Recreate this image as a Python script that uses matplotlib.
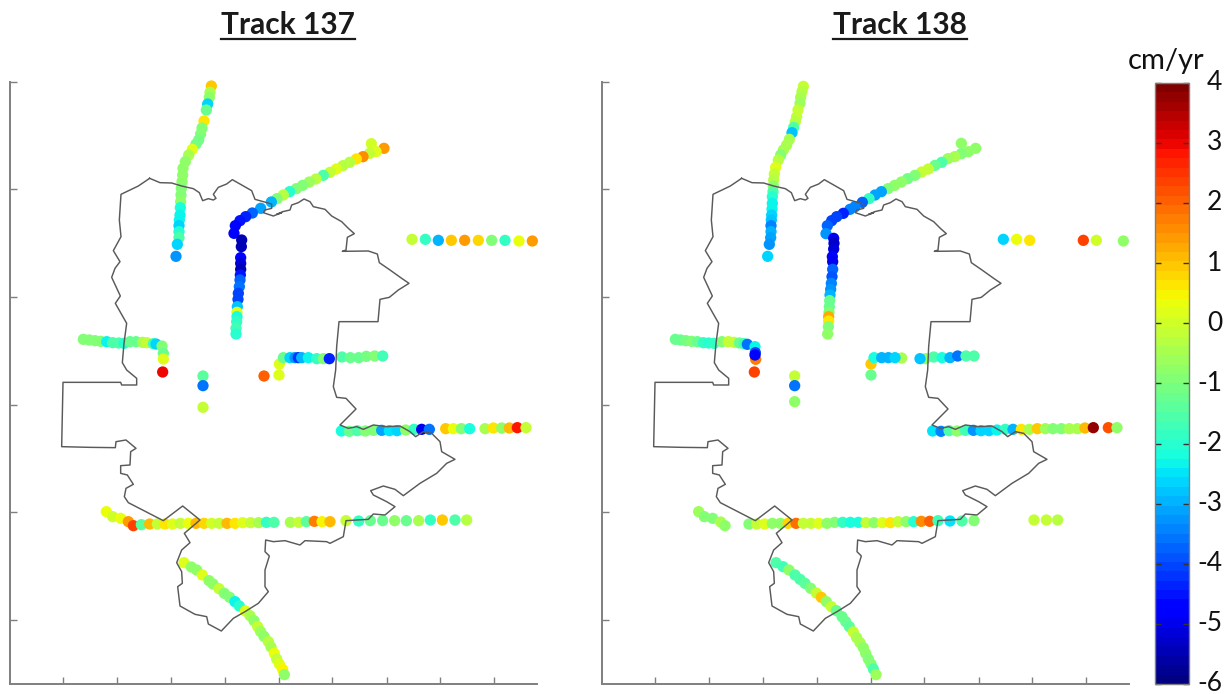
import matplotlib
matplotlib.use("Agg")
import matplotlib.pyplot as plt
from matplotlib.lines import Line2D
from matplotlib.cm import ScalarMappable
from matplotlib.colors import Normalize
from matplotlib.transforms import ScaledTranslation

plt.rcParams["font.family"] = ["Lato", "DejaVu Sans"]

W, H = 1231, 694

# map coordinates (arbitrary grid, y grows southwards)
x_ticks = [190, 352, 513, 676, 836, 996, 1160, 1320, 1483]
y_ticks = [246, 567, 890, 1214, 1537, 1860]
cbar_ticks = [4, 3, 2, 1, 0, -1, -2, -3, -4, -5, -6]
titles = ["Track 137", "Track 138"]

# city boundary
border_x = [449, 480, 515, 545, 580, 598, 608, 625, 640, 648, 640, 655, 680, 697, 720, 755, 765, 790, 815, 815, 795, 790, 820, 845,
            830, 848, 870, 875, 895, 912, 930, 940, 975, 995, 1025, 1045, 1063, 1042, 1038, 1027, 1105, 1132, 1138, 1170, 1205, 1227, 1195, 1168, 1140, 1134, 1017, 1010, 1007,
            1000, 1010, 1038, 1068, 1020, 1045, 1070, 1090, 1120, 1160, 1200, 1230, 1247, 1270, 1295, 1320, 1325, 1365, 1340, 1310, 1260, 1210, 1185, 1150, 1112, 1120, 1160, 1185, 1155, 1120, 1105, 1038, 1030, 990, 980, 915, 900, 855,
            820, 797, 795, 808, 795, 795, 805, 775, 735, 700, 664, 625, 620, 585, 540, 533, 547, 545, 530, 545, 570, 553, 600, 548, 490, 385, 373, 378, 400, 382, 362, 362, 390, 392, 408, 378, 348, 346, 268, 185, 189, 362, 365, 410, 410, 380,
            367, 372, 380, 346, 361, 335, 345, 360, 340, 363, 358, 363, 415, 449]
border_y = [535, 548, 549, 558, 566, 578, 602, 596, 600, 595, 583, 562, 552, 539, 552, 572, 598, 605, 612, 625, 630, 638, 648, 638,
            643, 635, 630, 615, 608, 597, 605, 620, 628, 648, 665, 685, 701, 712, 750, 754, 753, 762, 788, 810, 835, 850, 870, 892, 898, 965, 965, 1040, 1110,
            1160, 1192, 1195, 1227, 1275, 1285, 1280, 1288, 1275, 1280, 1278, 1295, 1310, 1295, 1300, 1325, 1355, 1378, 1390, 1420, 1450, 1487, 1468, 1458, 1472, 1485, 1505, 1520, 1545, 1542, 1558, 1562, 1610, 1630, 1625, 1622, 1635, 1622,
            1625, 1620, 1655, 1668, 1710, 1760, 1775, 1810, 1835, 1855, 1893, 1872, 1850, 1843, 1818, 1760, 1750, 1715, 1688, 1650, 1628, 1600, 1560, 1518, 1562, 1508, 1490, 1465, 1453, 1425, 1420, 1397, 1395, 1355, 1345, 1320, 1325, 1343, 1342, 1340, 1147, 1147, 1155, 1155, 1135, 1110,
            1088, 1030, 970, 910, 888, 832, 805, 785, 752, 710, 660, 583, 558, 535]

# Track 137
x137 = [634, 630, 628, 623, 619, 612, 606, 602, 596, 588, 577, 566, 556, 549, 548, 546, 544, 543, 542, 541, 540, 538, 537, 537, 537, 532, 528,
        1114, 1152, 1128, 1109, 1089, 1069, 1049, 1029, 1009, 990, 970, 948, 928, 908, 889, 869, 850, 831, 814,
        782, 757, 737, 720, 706, 702, 725, 724, 722, 722, 722, 721, 720, 718, 715, 714, 712, 711, 711, 710, 708, 708,
        1236, 1276, 1315, 1354, 1394, 1435, 1475, 1515, 1557, 1597,
        250, 268, 285, 302, 320, 338, 356, 372, 390, 408, 428, 440, 460, 468, 486, 490, 490, 488,
        609, 609, 609, 792, 838, 837,
        850, 870, 885, 895, 905, 925, 950, 970, 988, 1026, 1051, 1076, 1099, 1124, 1148,
        319, 338, 362, 385, 400, 424, 449, 472, 495, 518, 541, 565, 588, 612, 635, 658, 681, 705, 728, 752, 776, 799, 822, 871,
        896, 919, 943, 966, 990, 1038, 1076, 1111, 1148, 1184, 1219, 1256, 1291, 1327, 1365, 1400,
        552, 574, 590, 607, 627, 639, 657, 673, 689, 705, 718, 736, 750, 762, 773, 782, 792, 805, 813, 823, 830, 838, 848, 853,
        1024, 1048, 1072, 1096, 1120, 1145, 1168, 1191, 1217, 1242, 1265, 1288, 1337, 1360, 1384, 1409, 1455, 1480, 1505, 1528, 1552, 1578]
y137 = [258, 277, 292, 312, 330, 363, 384, 402, 420, 432, 448, 465, 485, 505, 525, 545, 565, 585, 605, 623, 645, 660, 677, 695, 713, 733, 769,
        431, 445, 455, 460, 470, 477, 487, 497, 507, 517, 526, 537, 546, 556, 566, 575, 585, 596, 606,
        625, 639, 650, 662, 677, 700, 720, 740, 773, 790, 808, 825, 840, 860, 880, 898, 920, 937, 950, 965, 985, 1002,
        718, 718, 721, 721, 721, 721, 721, 721, 723, 723,
        1018, 1020, 1022, 1024, 1025, 1028, 1029, 1030, 1025, 1025, 1027, 1028, 1031, 1032, 1038, 1060, 1077, 1116,
        1128, 1157, 1222, 1128, 1092, 1125,
        1073, 1073, 1073, 1073, 1073, 1073, 1076, 1076, 1076, 1071, 1073, 1073, 1069, 1068, 1068,
        1535, 1550, 1555, 1565, 1577, 1574, 1572, 1572, 1572, 1572, 1570, 1570, 1570, 1570, 1570, 1570, 1570, 1570, 1568, 1568, 1568, 1567, 1567, 1567,
        1567, 1565, 1564, 1565, 1565, 1562, 1563, 1562, 1562, 1562, 1562, 1562, 1560, 1560, 1560, 1560,
        1688, 1701, 1710, 1725, 1742, 1752, 1766, 1780, 1792, 1805, 1818, 1833, 1847, 1862, 1880, 1895, 1909, 1925, 1941, 1960, 1977, 1992, 2008, 2024,
        1293, 1294, 1292, 1293, 1291, 1291, 1292, 1292, 1290, 1288, 1288, 1288, 1286, 1286, 1286, 1286, 1286, 1284, 1284, 1284, 1283, 1283]
v137 = [0.9, -0.4, -0.7, -2.6, -1.3, 0.7, -1, -1, -1.1, -1.1, 0.1, -0.4, -0.8, -0.7, -0.7, -0.7, -0.9, -1, -0.8, -2.2, -2.4, -2.4, -2.6, -2, -1.5, -2.6, -3.2,
        0, 1.4, 0.1, -0.1, 1.5, 0.6, -0.3, -0.3, 0.2, -0.2, -1.5, -0.3, -0.6, -1, -0.9, -2, -0.3, -1, -3,
        -3.1, -3.8, -4.3, -4.5, -4.7, -4.6, -5.4, -5.4, -4.6, -5.2, -5.5, -4.5, -3.7, -3.6, -4, -4, -2.8, 0.1, -2.2, -1.8, -1.7, -2,
        -0.2, -1.9, -3, 0.9, 1.4, 0.8, -1, -1.9, 0.3, 1.4,
        -0.9, -1, -1, -1, -2.3, -1.5, -1.6, -2, -1.2, -1.2, -0.4, -0.2, -1.7, -2.6, -1, -1.2, 0.1, 3,
        -1.4, -3.6, -0.1, 2, 0.1, 0.1,
        -1.2, -2.6, -3.3, -4.2, -3, -2.4, -1.8, -1, -4.4, -1.5, -1.2, -1.3, -1.1, -1, -1.7,
        0.3, 0, 0.3, 1.4, 2.4, -1.4, 1.1, -0.1, 0.6, 0.2, -0.2, 0.4, 1.1, 0.8, 0, -0.2, 1.1, 0.6, 0.2, -0.1, -0.5, -1.9, -1.6, -0.4,
        -0.1, -1.4, 1.7, 0.5, 1.1, -0.2, -1.9, -1.2, -1.2, -0.8, -1.2, -0.5, -1.8, 1, -1.5, -0.3,
        0.2, -0.8, -0.7, 0.2, -0.7, -0.7, -0.1, -0.9, -0.9, -2.4, -2, 0.2, -0.5, -0.7, -0.2, -0.6, -0.8, -0.3, -0.5, 0.3, -0.2, 0.1, 0.5, -0.7,
        -2.1, -1.2, -1.6, -0.9, -1, -3.1, -2.5, -2.6, -0.8, -1.9, -5, -3.6, 1, 0.4, -0.9, -2.2, -0.5, 0.6, -0.7, 1.1, 2.9, -0.1]

# Track 138
x138 = [634, 630, 626, 624, 618, 614, 610, 605, 600, 592, 584, 574, 566, 559, 551, 547, 545, 544, 543, 541, 541, 540, 539, 538, 537, 537, 536, 532, 527,
        1108, 1151, 1129, 1108, 1088, 1068, 1049, 1029, 1009, 989, 969, 947, 928, 908, 888, 868, 849, 831, 811,
        789, 774, 754, 734, 719, 706, 702, 725, 726, 725, 721, 722, 722, 720, 718, 716, 714, 713, 712, 711, 710, 710, 709, 707,
        1234, 1274, 1313, 1474, 1513, 1594,
        250, 266, 282, 299, 316, 334, 350, 366, 390, 409, 426, 442, 456, 466, 491, 489, 490, 489, 487,
        608, 608, 608, 837, 837,
        929, 846, 869, 889, 909, 1001, 984, 1025, 1050, 1074, 1097, 1122, 1146,
        320, 337, 362, 386, 399, 471, 494, 518, 541, 565, 588, 612, 634, 657, 680, 705, 728, 752, 775, 799,
        822, 846, 871, 895, 918, 942, 965, 988, 1013, 1038, 1074, 1110, 1146, 1326, 1363, 1397,
        552, 573, 591, 609, 624, 639, 656, 673, 688, 703, 718, 733, 750, 761, 772, 784, 794, 804, 814, 821, 829, 837, 844, 852,
        1022, 1047, 1071, 1095, 1120, 1144, 1167, 1191, 1215, 1240, 1263, 1288, 1312, 1336, 1360, 1383, 1408, 1432, 1456, 1479, 1504, 1549, 1575]
y138 = [259, 275, 292, 310, 330, 350, 365, 382, 398, 418, 435, 450, 465, 480, 502, 522, 540, 558, 575, 590, 610, 627, 645, 660, 677, 695, 713, 733, 769,
        430, 445, 455, 461, 470, 476, 487, 496, 507, 516, 526, 536, 546, 556, 566, 575, 585, 596, 607,
        620, 628, 640, 650, 662, 677, 701, 715, 730, 747, 770, 785, 808, 830, 850, 868, 885, 902, 920, 937, 950, 963, 980, 1002,
        718, 718, 721, 721, 721, 723,
        1018, 1020, 1022, 1024, 1025, 1028, 1029, 1030, 1025, 1025, 1027, 1029, 1031, 1033, 1078, 1040, 1058, 1065, 1116,
        1128, 1157, 1205, 1092, 1125,
        1074, 1073, 1073, 1073, 1073, 1076, 1076, 1071, 1073, 1073, 1068, 1068, 1068,
        1535, 1550, 1555, 1566, 1577, 1572, 1572, 1572, 1570, 1570, 1570, 1570, 1570, 1570, 1570, 1570, 1567, 1567, 1567, 1567,
        1568, 1568, 1568, 1568, 1565, 1565, 1565, 1564, 1564, 1562, 1563, 1563, 1562, 1560, 1560, 1560,
        1688, 1700, 1710, 1725, 1738, 1750, 1765, 1779, 1792, 1805, 1820, 1832, 1850, 1865, 1880, 1896, 1913, 1928, 1943, 1960, 1977, 1992, 2007, 2024,
        1293, 1294, 1292, 1293, 1291, 1291, 1292, 1292, 1290, 1288, 1288, 1288, 1288, 1286, 1286, 1286, 1286, 1286, 1286, 1284, 1283, 1283, 1283]
v138 = [-0.1, -0.3, -0.5, -0.6, -0.2, -0.2, -0.3, -1.6, -2.8, -0.4, -0.5, -0.5, -0.9, -0.3, 0.1, -0.2, -0.3, -0.8, -1.5, -2, -2.3, -2.3, -2.7, -2.8, -3.5, -3, -3.1, -3.3, -2.7,
        -0.7, -0.8, -0.8, -0.9, -0.5, -0.6, -1.6, -1.2, -0.1, -0.1, -1, -1.1, -0.7, -0.8, -0.9, -3.1, -3.1, -1.8, -3.8,
        -3.5, -3.5, -4.4, -4.1, -4.1, -3.7, -3.2, -5, -5.3, -5.2, -4.9, -5, -3.8, -3.9, -3.4, -3.2, -2.9, -1.2, -1.2, -1, 1.3, 0.6, -1, -0.8,
        -2.6, 0.3, 0.7, 2.3, 0, -0.8,
        -1.2, -1.3, -1.1, -1, -1.3, -1.9, -2, -1.8, -0.9, -0.1, -0.1, -1.2, -1.7, -3.6, 1.7, -2.3, -4, -4.6, 2.4,
        -0.1, -3.6, -0.7, 1, -1.3,
        -0.5, -2.2, -3, -3, -2.7, -0.7, -2.8, -1.5, -2.2, -2.9, -3.6, -1.6, -1.5,
        -0.6, -0.9, -1, -0.5, -0.7, -1, -0.1, 0.1, -0.8, -0.8, 0.8, 1.9, -0.1, -0.1, 0.2, -0.8, -0.9, -1.9, -2.2, -2.1,
        -0.2, -0.7, 0.1, 0.6, -0.2, -0.7, -2, 1.6, 2.1, -1.7, -2.5, -1.6, -0.9, -0.1, -0.1, -0.3,
        -1.6, -1.7, -0.8, -1.6, -1.5, -1.4, -1, -0.2, 1, -0.7, -0.1, -1.2, -1.2, -1.3, -1.4, -0.2, -0.4, -0.5, -0.8, -0.7, -0.9, -1, -1.5, -0.6,
        -2.5, -3.5, -1.5, -0.7, -1.7, -3.3, -2.6, -2.6, -2.3, -1.9, -2.9, 0.6, -0.5, 0.9, -0.6, -1, -0.9, -0.4, -0.5, 1.1, 3.7, 2.2, -0.8]

GREY = "#7f7f7f"
cmap = plt.get_cmap("jet", 64)
norm = Normalize(vmin=-6, vmax=4)


def px_axes(fig, left, top, right, bottom):
    return fig.add_axes([left / W, 1 - bottom / H, (right - left) / W, (bottom - top) / H])


def draw_panel(ax, xs, ys, vs):
    ax.scatter(xs, ys, c=vs, cmap=cmap, norm=norm, s=66, linewidths=0, zorder=2, clip_on=False)
    ax.plot(border_x, border_y, color="#5a5a5a", lw=1.05, zorder=3)
    ax.set_xlim(30, 1611)
    ax.set_ylim(2052, 246)
    ax.set_xticks(x_ticks)
    ax.set_yticks(y_ticks)
    ax.tick_params(direction="in", length=5, width=1, color=GREY,
                   labelbottom=False, labelleft=False)
    for side in ["top", "right"]:
        ax.spines[side].set_visible(False)
    for side in ["left", "bottom"]:
        ax.spines[side].set_color(GREY)
        ax.spines[side].set_linewidth(1.4)


def underlined_title(fig, text, cx):
    t = fig.text(cx / W, 1 - 34 / H, text, ha="center", va="baseline",
                 fontsize=21.5, fontweight="bold", color="#1a1a1a")
    fig.canvas.draw()
    box = t.get_window_extent()
    fig.add_artist(Line2D([box.x0 / W, box.x1 / W], [1 - 39 / H, 1 - 39 / H],
                          color="#1a1a1a", lw=1.6))


fig = plt.figure(figsize=(W / 100, H / 100), dpi=100)

ax1 = px_axes(fig, 10, 82, 537, 684)
ax2 = px_axes(fig, 602, 82, 1129, 684)
draw_panel(ax1, x137, y137, v137)
draw_panel(ax2, x138, y138, v138)

underlined_title(fig, titles[0], 288)
underlined_title(fig, titles[1], 900)

cax = px_axes(fig, 1155, 83, 1189, 684)
cb = fig.colorbar(ScalarMappable(norm=norm, cmap=cmap), cax=cax, ticks=cbar_ticks)
cb.outline.set_edgecolor(GREY)
cb.outline.set_linewidth(1)
cb.ax.set_yticklabels([str(v) for v in cbar_ticks])
cb.ax.tick_params(axis="y", direction="in", left=True, right=True, length=4, width=1,
                  color="#333333", labelsize=19, pad=24, labelcolor="#111111")
# labels sit a little above their ticks
shift_up = ScaledTranslation(0, 2 / 72, fig.dpi_scale_trans)
for lab in cb.ax.get_yticklabels():
    lab.set_ha("right")
    lab.set_va("center_baseline")
    lab.set_transform(lab.get_transform() + shift_up)

fig.text(1166 / W, 1 - 61 / H, "cm/yr", ha="center", va="center", fontsize=21, color="#111111")

fig.savefig("out.png", dpi=100)
